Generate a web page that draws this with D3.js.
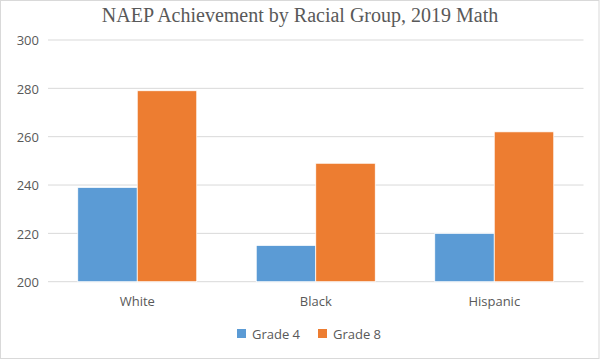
<!DOCTYPE html>
<html>
<head>
<meta charset="utf-8">
<script src="https://cdn.jsdelivr.net/npm/d3@7"></script>
<style>
  html, body { margin: 0; padding: 0; background: #fff; }
  svg { display: block; }
</style>
</head>
<body>
<svg id="chart" width="600" height="360"></svg>
<script>
const title = "NAEP Achievement by Racial Group, 2019 Math";
const categories = ["White", "Black", "Hispanic"];
const seriesNames = ["Grade 4", "Grade 8"];
const grade4 = [239, 215, 220];
const grade8 = [279, 249, 262];
const yTicks = [200, 220, 240, 260, 280, 300];
const colors = ["#5B9BD5", "#ED7D31"];

const series = [grade4, grade8];
const svg = d3.select("#chart");

// chart border
svg.append("rect")
  .attr("x", 0.5).attr("y", 0.5)
  .attr("width", 598.5).attr("height", 358)
  .attr("fill", "#fff").attr("stroke", "#D9D9D9").attr("stroke-width", 1);

const plotLeft = 48, plotRight = 583.5, plotTop = 40, plotBottom = 281.7;

const x = d3.scaleBand().domain(categories).range([plotLeft, plotRight])
  .paddingInner(1/3).paddingOuter(1/6);
const xs = d3.scaleBand().domain(seriesNames).range([0, x.bandwidth()]);
const y = d3.scaleLinear().domain([200, 300]).range([plotBottom, plotTop]);

// gridlines
svg.append("g").selectAll("line").data(yTicks).join("line")
  .attr("x1", plotLeft).attr("x2", plotRight)
  .attr("y1", d => y(d)).attr("y2", d => y(d))
  .attr("stroke", "#D9D9D9").attr("stroke-width", 1);

// y labels
const yAxis = d3.axisLeft(y).tickValues(yTicks).tickSize(0).tickPadding(0);
const gy = svg.append("g").attr("transform", `translate(39,0.5)`).call(yAxis);
gy.select(".domain").remove();
gy.selectAll("text")
  .attr("font-family", "'Open Sans', sans-serif")
  .attr("font-size", 13).attr("fill", "#595959");

// bars
seriesNames.forEach((s, si) => {
  svg.append("g").selectAll("rect").data(categories).join("rect")
    .attr("x", c => x(c) + xs(s))
    .attr("width", xs.bandwidth())
    .attr("y", (c, i) => y(series[si][i]))
    .attr("height", (c, i) => y(200) - y(series[si][i]))
    .attr("fill", colors[si])
    .attr("stroke", "#fff").attr("stroke-width", 0.75);
});

// x labels
const xAxis = d3.axisBottom(x).tickSize(0).tickPadding(0);
const gx = svg.append("g").attr("transform", `translate(0,${plotBottom + 15})`).call(xAxis);
gx.select(".domain").remove();
gx.selectAll("text")
  .attr("font-family", "'Open Sans', sans-serif")
  .attr("font-size", 13).attr("fill", "#595959");

// title
svg.append("text")
  .attr("x", 300).attr("y", 22)
  .attr("text-anchor", "middle")
  .attr("font-family", "'Liberation Serif', 'Times New Roman', serif")
  .attr("font-size", 20).attr("fill", "#595959")
  .text(title);

// legend
const legendX = [237, 318];
const lg = svg.append("g").selectAll("g").data(seriesNames).join("g")
  .attr("transform", (d, i) => `translate(${legendX[i]},329)`);
lg.append("rect").attr("width", 9).attr("height", 9)
  .attr("fill", (d, i) => colors[i]);
lg.append("text").attr("x", 15).attr("y", 10)
  .attr("font-family", "'Open Sans', sans-serif")
  .attr("font-size", 13).attr("fill", "#595959")
  .text(d => d);
</script>
</body>
</html>
